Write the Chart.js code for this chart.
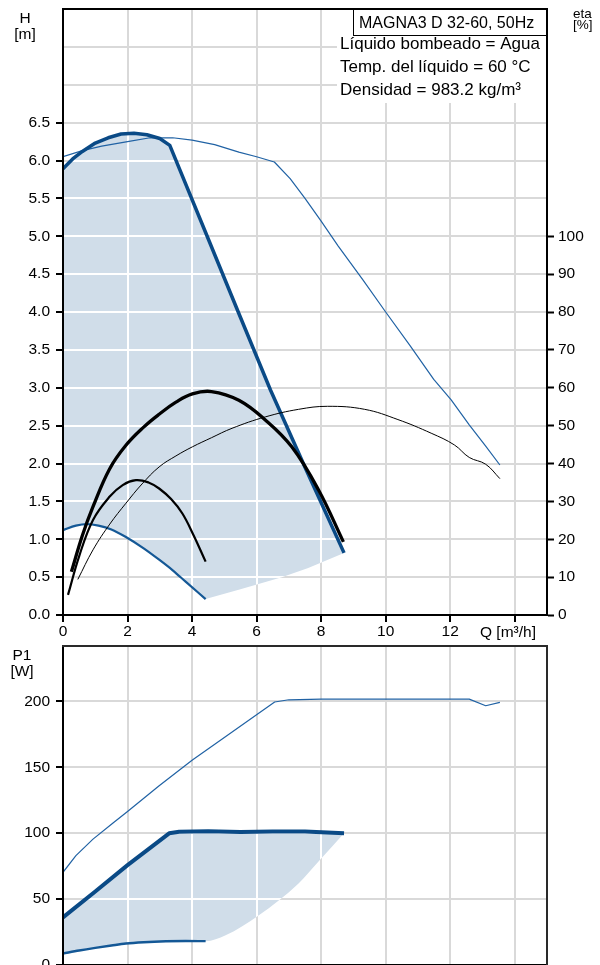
<!DOCTYPE html>
<html>
<head>
<meta charset="utf-8">
<title>MAGNA3 D 32-60, 50Hz</title>
<script src="https://cdn.jsdelivr.net/npm/chart.js@4.4.1/dist/chart.umd.min.js"></script>
<style>
  html, body { margin: 0; padding: 0; background: #fff; width: 600px; height: 965px; overflow: hidden; }
  canvas { position: absolute; left: 0; }
  #headChart { top: 0; }
  #powerChart { top: 640px; }
</style>
</head>
<body>
<canvas id="headChart" width="600" height="640" style="width:600px;height:640px"></canvas>
<canvas id="powerChart" width="600" height="360" style="width:600px;height:360px"></canvas>
<script>
// ---- Pump head curves: flow Q [m³/h] and head H [m] ----
const hMaxQ = [0, 0.3, 0.6, 1.0, 1.4, 1.8, 2.2, 2.6, 3.0, 3.31, 4.42, 5.45, 6.43, 7.5, 8.71];
const hMaxH = [5.89, 6.02, 6.12, 6.23, 6.30, 6.35, 6.36, 6.34, 6.29, 6.20, 5.05, 3.98, 2.97, 1.95, 0.82];

const hMinQ = [0, 0.4, 0.75, 1.1, 1.5, 1.95, 2.5, 2.98, 3.4, 3.8, 4.42];
const hMinH = [1.12, 1.18, 1.20, 1.18, 1.13, 1.03, 0.88, 0.73, 0.59, 0.44, 0.21];

// lower edge of the operating range, from the end of the minimum curve
const hEdgeQ = [4.42, 5.5, 6.78, 7.6, 8.71];
const hEdgeH = [0.21, 0.34, 0.50, 0.62, 0.82];

const hTopQ = [0, 0.6, 1.2, 2.0, 2.7, 3.4, 4.0, 4.7, 5.45, 6.0, 6.55, 7.04, 7.5, 8.0, 8.53, 9.3, 10.0, 10.75, 11.49, 12.03, 12.59, 13.1, 13.54];
const hTopH = [6.05, 6.13, 6.19, 6.25, 6.30, 6.30, 6.27, 6.21, 6.11, 6.05, 5.98, 5.76, 5.50, 5.20, 4.87, 4.42, 4.00, 3.56, 3.11, 2.84, 2.51, 2.23, 1.98];

// ---- Efficiency curves, eta [%] ----
const etaMaxQ = [0.26, 0.6, 0.93, 1.44, 1.95, 2.5, 2.98, 3.5, 4.01, 4.6, 5.45, 6.27, 7.09, 7.92, 8.69];
const etaMaxE = [11.4, 21.0, 28.6, 38.5, 44.8, 49.6, 53.0, 56.2, 58.4, 59.0, 56.7, 51.5, 44.4, 33.0, 19.3];

const etaMidQ = [0.155, 0.5, 0.93, 1.44, 1.85, 2.26, 2.65, 2.98, 3.35, 3.7, 4.05, 4.42];
const etaMidE = [5.3, 15.5, 25.1, 31.2, 34.3, 35.6, 35.0, 33.4, 30.6, 26.8, 21.0, 14.1];

const etaTopQ = [0.46, 0.93, 1.45, 1.95, 2.45, 2.98, 3.5, 4.01, 4.6, 5.24, 6.27, 7.3, 8.2, 9.35, 10.38, 11.41, 12.13, 12.59, 13.1, 13.54];
const etaTopE = [9.4, 17.2, 24.0, 29.5, 34.6, 39.1, 42.0, 44.4, 46.8, 49.3, 52.3, 54.3, 55.1, 54.3, 51.6, 48.0, 44.9, 41.6, 39.8, 36.0];

// ---- Power input curves, P1 [W] ----
const p1MaxQ = [0, 1.0, 2.0, 3.29, 3.6, 4.5, 5.5, 6.5, 7.5, 8.71];
const p1MaxP = [36.1, 55.8, 75.8, 99.9, 101.1, 101.4, 100.9, 101.2, 101.2, 100.0];

const p1MinQ = [0, 0.5, 1.0, 1.5, 1.95, 2.5, 3.19, 3.8, 4.42];
const p1MinP = [8.7, 11.0, 13.0, 14.8, 16.3, 17.3, 18.0, 18.2, 18.1];

const p1EdgeQ = [4.42, 5.04, 6.07, 7.3, 7.96, 8.71];
const p1EdgeP = [18.1, 22.6, 37.8, 61.9, 79.6, 100.0];

const p1TopQ = [0, 0.4, 0.93, 1.54, 2.0, 2.98, 4.01, 5.0, 6.01, 6.56, 7.0, 8.0, 10.0, 12.59, 13.1, 13.54];
const p1TopP = [70.3, 83.0, 95.5, 107.5, 116.5, 136.0, 155.5, 172.5, 190.0, 199.5, 201.2, 201.7, 201.7, 201.7, 196.7, 199.2];

// ---- Axis ticks ----
const qTicks = [0, 2, 4, 6, 8, 10, 12];
const qLabel = 'Q [m³/h]';
const hLabelMax = 6.5;
const etaLabelMax = 100;

const titleText = 'MAGNA3 D 32-60, 50Hz';
const fluidLines = ['Líquido bombeado = Agua', 'Temp. del líquido = 60 °C', 'Densidad = 983.2 kg/m³'];

// ---- Styling ----
const FONT = '"Liberation Sans", Arial, sans-serif';
const BLUE_DARK = '#0a4a86';
const BLUE_MID = '#145896';
const BLUE_THIN = '#2062a4';
const RANGE_FILL = '#d0dde9';
const GRID = '#d9d9d9';
const SMOOTH = 0.4;

Chart.defaults.font.family = FONT;
Chart.defaults.font.size = 15.5;
Chart.defaults.color = '#000';

const pts = (xs, ys) => xs.map((x, i) => ({ x, y: ys[i] }));

// fixes an axis box to a given size so the plot area lands at fixed pixels
function fitAxis(size, dim) {
  return (scale) => {
    scale[dim] = size;
    scale.paddingTop = 0; scale.paddingBottom = 0;
    scale.paddingLeft = 0; scale.paddingRight = 0;
  };
}

// white grid lines drawn only inside the shaded operating range
function rangeGrid(upperIdx, lowerIdx, yId) {
  return {
    id: 'rangeGrid',
    beforeDatasetsDraw(chart) {
      const up = chart.getDatasetMeta(upperIdx).dataset;
      const low = chart.getDatasetMeta(lowerIdx).dataset;
      const { ctx, chartArea: a } = chart;
      const xs = chart.scales.x, ys = chart.scales[yId];
      const pu = up.points, pl = low.points;
      ctx.save();
      ctx.beginPath();
      ctx.rect(a.left, a.top, a.right - a.left, a.bottom - a.top);
      ctx.clip();
      // region under the upper curve
      ctx.beginPath();
      up.path(ctx);
      ctx.lineTo(pu[pu.length - 1].x, a.bottom + 10);
      ctx.lineTo(pu[0].x, a.bottom + 10);
      ctx.closePath();
      ctx.clip();
      // region above the lower curve
      ctx.beginPath();
      low.path(ctx);
      ctx.lineTo(pl[pl.length - 1].x, a.top - 10);
      ctx.lineTo(pl[0].x, a.top - 10);
      ctx.closePath();
      ctx.clip();
      ctx.strokeStyle = '#fff';
      ctx.lineWidth = 2;
      ctx.beginPath();
      xs.ticks.forEach(t => {
        if (t.value > xs.min) {
          const px = Math.round(xs.getPixelForValue(t.value));
          ctx.moveTo(px, a.top); ctx.lineTo(px, a.bottom);
        }
      });
      ys.ticks.forEach(t => {
        if (t.value > ys.min) {
          const py = Math.round(ys.getPixelForValue(t.value));
          ctx.moveTo(a.left, py); ctx.lineTo(a.right, py);
        }
      });
      ctx.stroke();
      ctx.restore();
    }
  };
}

function frame(color, sides) {
  return {
    id: 'frame',
    afterDraw(chart) {
      const { ctx, chartArea: a } = chart;
      ctx.save();
      ctx.strokeStyle = color;
      ctx.lineWidth = 2;
      ctx.beginPath();
      if (sides.includes('top')) { ctx.moveTo(a.left - 1, a.top); ctx.lineTo(a.right + 1, a.top); }
      if (sides.includes('right')) { ctx.moveTo(a.right, a.top - 1); ctx.lineTo(a.right, a.bottom + 1); }
      ctx.stroke();
      ctx.restore();
    }
  };
}

const headNotes = {
  id: 'headNotes',
  afterDatasetsDraw(chart) {
    const { ctx, chartArea: a } = chart;
    ctx.save();
    ctx.fillStyle = '#fff';
    ctx.fillRect(337, 35, a.right - 337, 68);
    ctx.fillRect(353, a.top, a.right - 353, 35 - a.top);
    ctx.strokeStyle = '#000';
    ctx.lineWidth = 1;
    ctx.strokeRect(353.5, a.top + 0.5, a.right - 353.5, 35 - a.top);
    ctx.fillStyle = '#000';
    ctx.textAlign = 'left';
    ctx.textBaseline = 'alphabetic';
    ctx.font = '16px ' + FONT;
    ctx.fillText(titleText, 359, 28);
    ctx.font = '17px ' + FONT;
    fluidLines.forEach((t, i) => ctx.fillText(t, 340, 49 + i * 23));
    ctx.restore();
  },
  afterDraw(chart) {
    const { ctx } = chart;
    ctx.save();
    ctx.fillStyle = '#000';
    ctx.textBaseline = 'alphabetic';
    ctx.font = '15.5px ' + FONT;
    ctx.textAlign = 'center';
    ctx.fillText('H', 25, 23);
    ctx.fillText('[m]', 25, 39);
    ctx.textAlign = 'left';
    ctx.fillText(qLabel, 480, 637);
    ctx.font = '13.5px ' + FONT;
    ctx.fillText('eta', 573, 18);
    ctx.fillText('[%]', 573, 28.5);
    ctx.restore();
  }
};

const powerNotes = {
  id: 'powerNotes',
  afterDraw(chart) {
    const { ctx } = chart;
    ctx.save();
    ctx.fillStyle = '#000';
    ctx.textBaseline = 'alphabetic';
    ctx.textAlign = 'center';
    ctx.font = '15.5px ' + FONT;
    ctx.fillText('P1', 22, 20);
    ctx.fillText('[W]', 22, 36);
    ctx.restore();
  }
};

const common = {
  responsive: false,
  animation: false,
  devicePixelRatio: 1,
  events: [],
  elements: {
    point: { radius: 0, hoverRadius: 0 },
    line: { borderJoinStyle: 'round', fill: false }
  },
  plugins: {
    legend: { display: false },
    tooltip: { enabled: false },
    filler: { drawTime: 'beforeDatasetsDraw' }
  }
};

const qAxis = (height, labelled) => ({
  type: 'linear', position: 'bottom', min: 0, max: 15,
  ticks: {
    stepSize: 2, includeBounds: false, padding: 0, maxRotation: 0, autoSkip: false,
    callback: v => (labelled ? (qTicks.includes(v) ? String(v) : '') : String(v))
  },
  grid: { color: GRID, lineWidth: 2, tickColor: '#000', tickLength: 7, tickWidth: 2 },
  border: { color: '#000', width: 2, z: 1 },
  afterFit: fitAxis(height, 'height')
});

// ---- Head / efficiency chart ----
new Chart(document.getElementById('headChart'), {
  type: 'line',
  data: {
    datasets: [
      { label: 'eta max', data: pts(etaMaxQ, etaMaxE), yAxisID: 'eta', borderColor: '#000', borderWidth: 3.3, tension: SMOOTH },
      { label: 'eta', data: pts(etaMidQ, etaMidE), yAxisID: 'eta', borderColor: '#000', borderWidth: 2.2, tension: SMOOTH },
      { label: 'eta top', data: pts(etaTopQ, etaTopE), yAxisID: 'eta', borderColor: '#000', borderWidth: 1, tension: SMOOTH },
      { label: 'H max', data: pts(hMaxQ, hMaxH), yAxisID: 'y', borderColor: BLUE_DARK, borderWidth: 3.5, tension: 0, fill: 6, backgroundColor: RANGE_FILL },
      { label: 'H min', data: pts(hMinQ, hMinH), yAxisID: 'y', borderColor: BLUE_MID, borderWidth: 2.2, cubicInterpolationMode: 'monotone' },
      { label: 'H top', data: pts(hTopQ, hTopH), yAxisID: 'y', borderColor: BLUE_THIN, borderWidth: 1.2, tension: 0 },
      { label: 'H range floor', data: pts(hMinQ.concat(hEdgeQ.slice(1)), hMinH.concat(hEdgeH.slice(1))), yAxisID: 'y', borderColor: 'rgba(0,0,0,0)', borderWidth: 0, tension: 0 }
    ]
  },
  options: Object.assign({}, common, {
    layout: { padding: { top: 9, left: 0, right: 0, bottom: 0 }, autoPadding: false },
    scales: {
      x: qAxis(25, true),
      y: {
        type: 'linear', position: 'left', min: 0, max: 8,
        ticks: { stepSize: 0.5, includeBounds: false, padding: 6, autoSkip: false, callback: v => (v <= hLabelMax ? v.toFixed(1) : '') },
        grid: { color: GRID, lineWidth: 2, tickLength: 7, tickWidth: 2, tickColor: c => (c.tick && c.tick.value <= hLabelMax ? '#000' : 'rgba(0,0,0,0)') },
        border: { color: '#000', width: 2, z: 1 },
        afterFit: fitAxis(63, 'width')
      },
      eta: {
        type: 'linear', position: 'right', min: 0, max: 160,
        ticks: { stepSize: 10, includeBounds: false, padding: 4, autoSkip: false, callback: v => (v <= etaLabelMax ? String(v) : '') },
        grid: { drawOnChartArea: false, tickLength: 7, tickWidth: 2, tickColor: c => (c.tick && c.tick.value <= etaLabelMax ? '#000' : 'rgba(0,0,0,0)') },
        border: { color: '#000', width: 2, z: 1 },
        afterFit: fitAxis(53, 'width')
      }
    }
  }),
  plugins: [rangeGrid(3, 6, 'y'), headNotes, frame('#000', ['top'])]
});

// ---- Power input chart ----
new Chart(document.getElementById('powerChart'), {
  type: 'line',
  data: {
    datasets: [
      { label: 'P1 max', data: pts(p1MaxQ, p1MaxP), borderColor: BLUE_DARK, borderWidth: 4, tension: 0, fill: 3, backgroundColor: RANGE_FILL },
      { label: 'P1 min', data: pts(p1MinQ, p1MinP), borderColor: BLUE_MID, borderWidth: 2.4, cubicInterpolationMode: 'monotone' },
      { label: 'P1 top', data: pts(p1TopQ, p1TopP), borderColor: BLUE_THIN, borderWidth: 1.2, tension: 0 },
      { label: 'P1 range floor', data: pts(p1MinQ.concat(p1EdgeQ.slice(1)), p1MinP.concat(p1EdgeP.slice(1))), borderColor: 'rgba(0,0,0,0)', borderWidth: 0, cubicInterpolationMode: 'monotone' }
    ]
  },
  options: Object.assign({}, common, {
    layout: { padding: { top: 6, left: 0, right: 53, bottom: 0 }, autoPadding: false },
    scales: {
      x: qAxis(35, false),
      y: {
        type: 'linear', position: 'left', min: 0, max: 242,
        ticks: { stepSize: 50, includeBounds: false, padding: 6, autoSkip: false, callback: v => String(v) },
        grid: { color: GRID, lineWidth: 2, tickLength: 7, tickWidth: 2, tickColor: '#000' },
        border: { color: '#000', width: 2, z: 1 },
        afterFit: fitAxis(63, 'width')
      }
    }
  }),
  plugins: [rangeGrid(0, 3, 'y'), powerNotes, frame('#2a2a2a', ['top', 'right'])]
});
</script>
</body>
</html>
